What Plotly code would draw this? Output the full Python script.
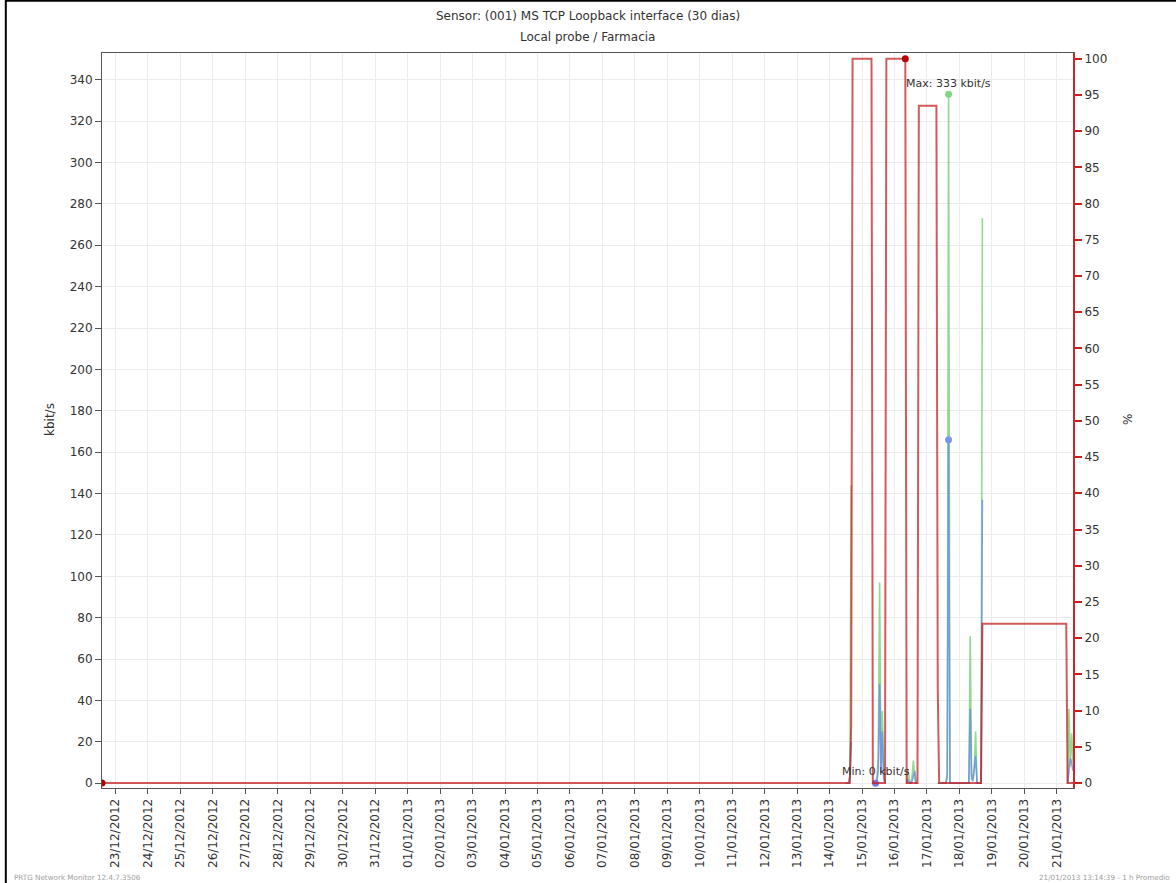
import plotly.graph_objects as go

# ---------------- data ----------------
# Downtime-like percentage channel (right axis), 1 h averages
red_times = ["2012-12-22 14:00", "2013-01-14 15:00", "2013-01-14 16:00", "2013-01-14 17:00",
             "2013-01-15 07:00", "2013-01-15 08:00", "2013-01-15 17:00", "2013-01-15 18:00",
             "2013-01-16 08:00", "2013-01-16 09:00", "2013-01-16 17:00", "2013-01-16 18:00",
             "2013-01-17 07:00", "2013-01-17 08:00", "2013-01-17 09:00", "2013-01-18 16:00",
             "2013-01-18 17:00", "2013-01-21 07:00", "2013-01-21 08:00", "2013-01-21 12:00"]
red_values = [0, 0, 8, 100,
              100, 0, 0, 100,
              100, 0, 0, 93.5,
              93.5, 13, 0, 0,
              22, 22, 0, 0]

# Traffic channels (left axis, kbit/s); None = no data (downtime)
traffic_times = ["2013-01-14 12:00", "2013-01-14 13:00", "2013-01-14 14:00", "2013-01-14 15:00",
                 "2013-01-14 16:00", "2013-01-14 17:00",
                 "2013-01-15 08:00", "2013-01-15 09:00", "2013-01-15 10:00", "2013-01-15 11:00",
                 "2013-01-15 12:00", "2013-01-15 13:00", "2013-01-15 14:00", "2013-01-15 15:00",
                 "2013-01-15 16:00", "2013-01-15 17:00", "2013-01-15 18:00",
                 "2013-01-16 09:00", "2013-01-16 10:00", "2013-01-16 11:00", "2013-01-16 12:00",
                 "2013-01-16 13:00", "2013-01-16 14:00", "2013-01-16 15:00", "2013-01-16 16:00",
                 "2013-01-16 17:00", "2013-01-16 18:00",
                 "2013-01-17 08:00", "2013-01-17 14:00", "2013-01-17 15:00", "2013-01-17 16:00",
                 "2013-01-17 17:00", "2013-01-18 07:00", "2013-01-18 08:00", "2013-01-18 09:00",
                 "2013-01-18 10:00", "2013-01-18 11:00", "2013-01-18 12:00", "2013-01-18 13:00",
                 "2013-01-18 16:00", "2013-01-18 17:00", "2013-01-18 18:00",
                 "2013-01-21 08:00", "2013-01-21 09:00", "2013-01-21 10:00", "2013-01-21 11:00",
                 "2013-01-21 12:00"]
green_values = [0, 0, 0, 4,
                144, None,
                0, 0, 0, 3,
                12, 97, 8, 35,
                4, 0, None,
                0, 7, 1, 0,
                3, 11, 2, 0,
                0, None,
                0, 0, 5, 333,
                0, 0, 71, 4,
                2, 8, 25, 0,
                0, 273, None,
                0, 36, 8, 24,
                10]
blue_values = [0, 0, 0, 3,
               20, None,
               0, 0, 0, 1,
               6, 48, 5, 25,
               2, 0, None,
               0, 2, 0, 0,
               1, 3, 6, 0,
               0, None,
               0, 0, 3, 166,
               0, 0, 36, 2,
               1, 6, 13, 0,
               0, 137, None,
               0, 5, 12, 10,
               6]

red_marker_times = ["2012-12-22 14:00", "2013-01-16 08:00"]
min_marker_time = "2013-01-15 10:00"

title_line1 = "Sensor: (001) MS TCP Loopback interface (30 dias)"
title_line2 = "Local probe / Farmacia"
footer_left = "PRTG Network Monitor 12.4.7.3506"
footer_right = "21/01/2013 13:14:39 - 1 h Promedio"

# ---------------- layout geometry ----------------
W, H = 1176, 883
L, R, T, B = 102, 1073, 53, 788   # plot area in px


def px(xp):
    return (xp - L) / (R - L)


def py(yp):
    return (B - yp) / (B - T)


FONT = "DejaVu Sans"
TXT = "#333333"

fig = go.Figure()

fig.add_trace(go.Scatter(x=traffic_times, y=green_values, mode="lines",
                         line=dict(color="rgba(110,205,110,0.75)", width=1.6),
                         connectgaps=False, showlegend=False, hoverinfo="skip"))
fig.add_trace(go.Scatter(x=traffic_times, y=blue_values, mode="lines",
                         line=dict(color="rgba(100,135,230,0.75)", width=1.6),
                         connectgaps=False, showlegend=False, hoverinfo="skip"))
fig.add_trace(go.Scatter(x=red_times, y=red_values, mode="lines", yaxis="y2",
                         line=dict(color="rgba(195,25,25,0.72)", width=2),
                         showlegend=False, hoverinfo="skip"))

# max / min markers derived from the data lists
g_idx = max((i for i, v in enumerate(green_values) if v is not None), key=lambda i: green_values[i])
b_idx = max((i for i, v in enumerate(blue_values) if v is not None), key=lambda i: blue_values[i])
fig.add_trace(go.Scatter(x=[traffic_times[g_idx]], y=[green_values[g_idx]], mode="markers",
                         marker=dict(color="rgb(130,215,130)", size=7), showlegend=False))
fig.add_trace(go.Scatter(x=[traffic_times[b_idx]], y=[blue_values[b_idx]], mode="markers",
                         marker=dict(color="rgb(120,150,240)", size=7), showlegend=False))
m_idx = traffic_times.index(min_marker_time)
fig.add_trace(go.Scatter(x=[min_marker_time], y=[blue_values[m_idx]], mode="markers",
                         marker=dict(color="rgb(120,120,225)", size=7), showlegend=False))
red_marker_vals = [red_values[red_times.index(t)] for t in red_marker_times]
fig.add_trace(go.Scatter(x=red_marker_times, y=red_marker_vals, mode="markers", yaxis="y2",
                         marker=dict(color="rgb(180,0,0)", size=7), showlegend=False))

annotations = [
    dict(x=0.5, y=py(16), xref="paper", yref="paper", text=title_line1, showarrow=False,
         xanchor="center", yanchor="middle", font=dict(family=FONT, size=12, color=TXT)),
    dict(x=0.5, y=py(37), xref="paper", yref="paper", text=title_line2, showarrow=False,
         xanchor="center", yanchor="middle", font=dict(family=FONT, size=12, color=TXT)),
    dict(x=px(50), y=py(420), xref="paper", yref="paper", text="kbit/s", showarrow=False,
         textangle=-90, xanchor="center", yanchor="middle", font=dict(family=FONT, size=12, color=TXT)),
    dict(x=px(1128), y=py(420), xref="paper", yref="paper", text="%", showarrow=False,
         textangle=-90, xanchor="center", yanchor="middle", font=dict(family=FONT, size=12, color=TXT)),
    dict(x=traffic_times[g_idx], y=green_values[g_idx], xref="x", yref="y",
         text="Max: %d kbit/s" % green_values[g_idx], showarrow=False, yshift=11,
         xanchor="center", yanchor="middle", font=dict(family=FONT, size=11, color=TXT)),
    dict(x=min_marker_time, y=blue_values[m_idx], xref="x", yref="y",
         text="Min: %d kbit/s" % blue_values[m_idx], showarrow=False, yshift=12,
         xanchor="center", yanchor="middle", font=dict(family=FONT, size=11, color=TXT)),
    dict(x=px(12), y=py(877), xref="paper", yref="paper", text=footer_left, showarrow=False,
         xanchor="left", yanchor="middle", font=dict(family=FONT, size=7.2, color="#a0a0a0")),
    dict(x=px(1172), y=py(877), xref="paper", yref="paper", text=footer_right, showarrow=False,
         xanchor="right", yanchor="middle", font=dict(family=FONT, size=7.2, color="#a0a0a0")),
]

shapes = [
    dict(type="line", xref="paper", yref="paper", x0=px(5.8), x1=px(5.8), y0=py(0), y1=py(H),
         line=dict(color="black", width=2)),
    dict(type="line", xref="paper", yref="paper", x0=px(5), x1=px(W), y0=py(0.8), y1=py(0.8),
         line=dict(color="black", width=2)),
]

fig.update_layout(
    width=W, height=H,
    margin=dict(l=L, r=W - R, t=T, b=H - B, pad=0),
    paper_bgcolor="white", plot_bgcolor="white",
    font=dict(family=FONT, size=12, color=TXT),
    showlegend=False,
    annotations=annotations,
    shapes=shapes,
    xaxis=dict(
        type="date",
        range=["2012-12-22 14:00", "2013-01-21 12:00"],
        tick0="2012-12-23", dtick=86400000, tickformat="%d/%m/%Y",
        tickangle=-90, ticks="outside", ticklen=5, tickcolor="#555555",
        showgrid=True, gridcolor="#ececec", gridwidth=1,
        showline=True, linecolor="#555555", linewidth=1, mirror=True,
        zeroline=False, tickfont=dict(family=FONT, size=12, color=TXT),
    ),
    yaxis=dict(
        range=[-2.3, 352.9], dtick=20, tick0=0,
        ticks="outside", ticklen=6, tickcolor="#555555",
        showgrid=True, gridcolor="#ececec", gridwidth=1,
        showline=True, linecolor="#555555", linewidth=1,
        zeroline=False, tickfont=dict(family=FONT, size=12, color=TXT),
    ),
    yaxis2=dict(
        overlaying="y", side="right",
        range=[-0.69, 100.79], dtick=5, tick0=0,
        ticks="outside", ticklen=7, tickcolor="rgb(200,30,30)", tickwidth=1.5,
        showgrid=False, showline=True, linecolor="rgb(200,40,40)", linewidth=2,
        zeroline=False, tickfont=dict(family=FONT, size=12, color=TXT),
    ),
)

fig.write_html("out.html", config={"displayModeBar": False},
               post_script="document.body.style.margin='0';document.body.style.overflow='hidden';")
